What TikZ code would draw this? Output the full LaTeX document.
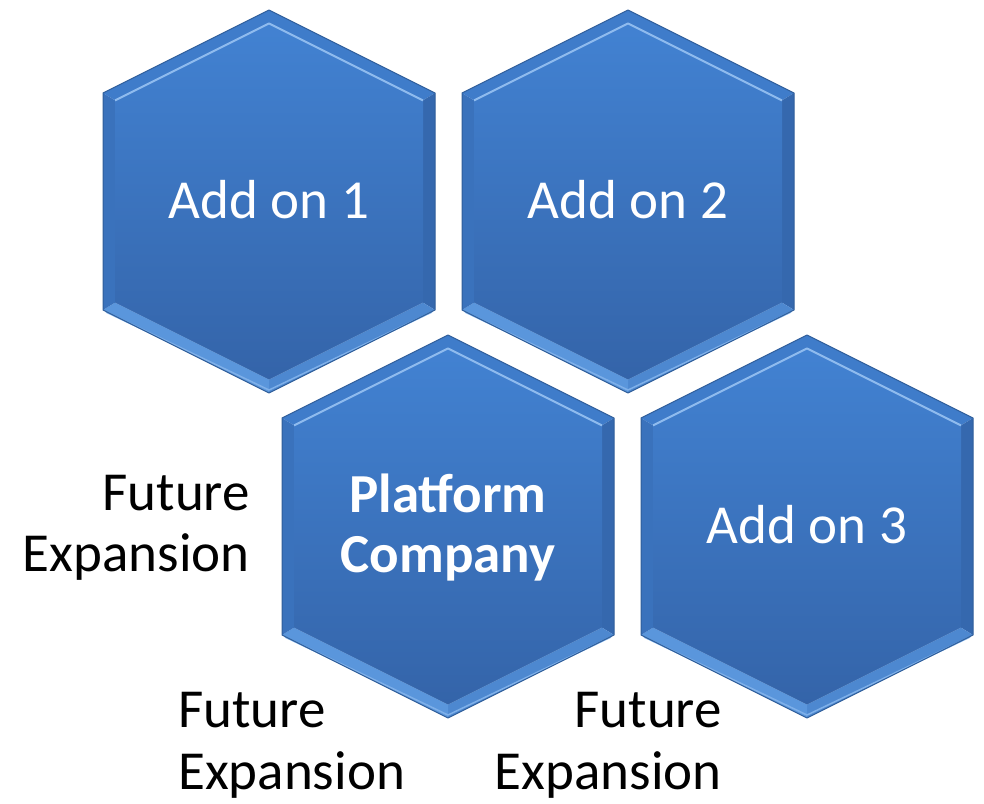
\documentclass[tikz,border=0pt]{standalone}
\usepackage{fontspec}
\setmainfont{Carlito}
\definecolor{hexedge}{HTML}{2F5E9A}
\definecolor{bandtop}{HTML}{3F7CCA}
\definecolor{bandside}{HTML}{3A72BC}
\definecolor{bandsideR}{HTML}{3568AE}
\definecolor{bandbotL}{HTML}{5A96DC}
\definecolor{bandbotR}{HTML}{4D88D0}
\definecolor{ridge}{HTML}{8FBBEE}
\definecolor{bodytop}{HTML}{4282D2}
\definecolor{bodybot}{HTML}{3464A9}
\tikzset{
  whitelabel/.style={text=white, font=\fontsize{55}{61.5}\selectfont, inner sep=0pt},
  boldlabel/.style={text=white, font=\fontsize{55}{61.5}\selectfont\bfseries, inner sep=0pt},
  blacklabel/.style={text=black, font=\fontsize{55}{61.5}\selectfont, inner sep=0pt},
  hexband/.style={draw=none},
}
\newcommand\hexcell[2]{%
\begin{scope}[shift={(#1,#2)}]
  \fill[bandtop] (-166,83) -- (0,0) -- (0,13.4) -- (-154,90.4) -- cycle;
  \fill[bandtop] (0,0) -- (166,83) -- (154,90.4) -- (0,13.4) -- cycle;
  \fill[bandsideR] (166,83) -- (166,300) -- (154,292.6) -- (154,90.4) -- cycle;
  \fill[bandbotR] (166,300) -- (0,383) -- (0,369.6) -- (154,292.6) -- cycle;
  \fill[bandbotL] (0,383) -- (-166,300) -- (-154,292.6) -- (0,369.6) -- cycle;
  \fill[bandside] (-166,300) -- (-166,83) -- (-154,90.4) -- (-154,292.6) -- cycle;
  \shade[top color=bodytop, bottom color=bodybot]
    (0,13.4) -- (154,90.4) -- (154,292.6) -- (0,369.6) -- (-154,292.6) -- (-154,90.4) -- cycle;
  \draw[ridge, line width=2pt, line join=round] (-154,90.4) -- (0,13.4) -- (154,90.4);
  \draw[ridge!70!bandbotL, line width=1.5pt] (-163,302) -- (0,380) -- (163,302);
  \draw[hexedge, line width=1pt, line join=round]
    (0,0) -- (166,83) -- (166,300) -- (0,383) -- (-166,300) -- (-166,83) -- cycle;
\end{scope}}
\begin{document}
\begin{tikzpicture}[x=1pt, y=-1pt]
  \useasboundingbox (0,0) rectangle (984,803);
  \hexcell{269}{10}
  \hexcell{628}{10}
  \hexcell{448}{335}
  \hexcell{807}{335}
  \node[whitelabel, anchor=base] (a1) at (269,218) {Add on 1};
  \node[whitelabel, anchor=base] (a2) at (628,218) {Add on 2};
  \node[boldlabel, anchor=base] (p1) at (448,512) {Platform};
  \node[boldlabel, anchor=base] (p2) at (448,572) {Company};
  \node[whitelabel, anchor=base] (a3) at (807,543) {Add on 3};
  \node[blacklabel, anchor=base east] (l1) at (250,510) {Future};
  \node[blacklabel, anchor=base east] (l2) at (250,571) {Expansion};
  \node[blacklabel, anchor=base west] (b1) at (178,727) {Future};
  \node[blacklabel, anchor=base west] (b2) at (178,789) {Expansion};
  \node[blacklabel, anchor=base east] (r1) at (722,727) {Future};
  \node[blacklabel, anchor=base east] (r2) at (722,789) {Expansion};
\end{tikzpicture}
\end{document}
